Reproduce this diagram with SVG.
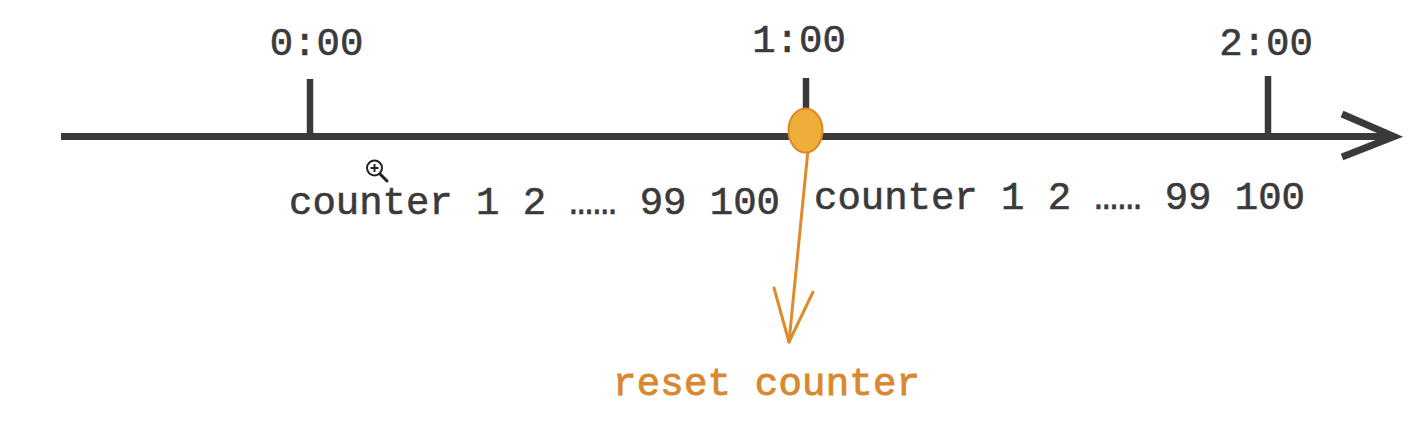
<svg xmlns="http://www.w3.org/2000/svg" width="1410" height="424" viewBox="0 0 1410 424">
  <style>
    .axis { stroke: #3a3a3c; stroke-width: 7; fill: none; }
    .tick { stroke: #3a3a3c; stroke-width: 6.5; fill: none; }
    .lbl { font-family: "Liberation Mono", "DejaVu Sans Mono", monospace; font-size: 39px; fill: #3a3a3c; stroke: #3a3a3c; stroke-width: 0.6; }
    .orange { stroke: #df8b2c; stroke-width: 3; fill: none; stroke-linecap: round; stroke-linejoin: round; }
    .olbl { font-family: "Liberation Mono", "DejaVu Sans Mono", monospace; font-size: 39px; fill: #d8892f; stroke: #d8892f; stroke-width: 0.9; }
  </style>
  <rect width="1410" height="424" fill="#ffffff"/>

  <g id="connectors">
    <line class="axis" x1="61" y1="136.5" x2="1393" y2="136.5"/>
    <polyline class="axis" points="1342,114 1394,136.5 1342,157" stroke-linejoin="miter"/>
    <line class="orange" x1="808" y1="150" x2="789" y2="342"/>
    <polyline class="orange" points="774,288 789,342 813,292"/>
  </g>

  <g id="tick-0">
    <line class="tick" x1="310" y1="79" x2="310" y2="136"/>
    <text class="lbl" x="316.5" y="55" text-anchor="middle">0:00</text>
  </g>
  <g id="tick-1">
    <line class="tick" x1="806" y1="78" x2="806" y2="136"/>
    <text class="lbl" x="799" y="52" text-anchor="middle">1:00</text>
  </g>
  <g id="tick-2">
    <line class="tick" x1="1268" y1="76" x2="1268" y2="136"/>
    <text class="lbl" x="1266" y="55" text-anchor="middle">2:00</text>
  </g>

  <g id="reset-point">
    <ellipse cx="805.5" cy="130.5" rx="17" ry="22" fill="#efae3a" stroke="#d98a22" stroke-width="2"/>
  </g>

  <g id="counter-1">
    <text class="lbl" x="289" y="214" textLength="491" lengthAdjust="spacing">counter 1 2 …… 99 100</text>
  </g>
  <g id="counter-2">
    <text class="lbl" x="814" y="209" textLength="491" lengthAdjust="spacing">counter 1 2 …… 99 100</text>
  </g>

  <g id="reset-label">
    <text class="olbl" x="613" y="395" textLength="307" lengthAdjust="spacing">reset counter</text>
  </g>

  <g id="cursor">
    <circle cx="374.5" cy="168" r="7.5" fill="#ffffff" stroke="#222" stroke-width="2"/>
    <line x1="370.5" y1="168" x2="378.5" y2="168" stroke="#222" stroke-width="2"/>
    <line x1="374.5" y1="164" x2="374.5" y2="172" stroke="#222" stroke-width="2"/>
    <line x1="380" y1="174" x2="387" y2="181" stroke="#222" stroke-width="3" stroke-linecap="round"/>
  </g>
</svg>
